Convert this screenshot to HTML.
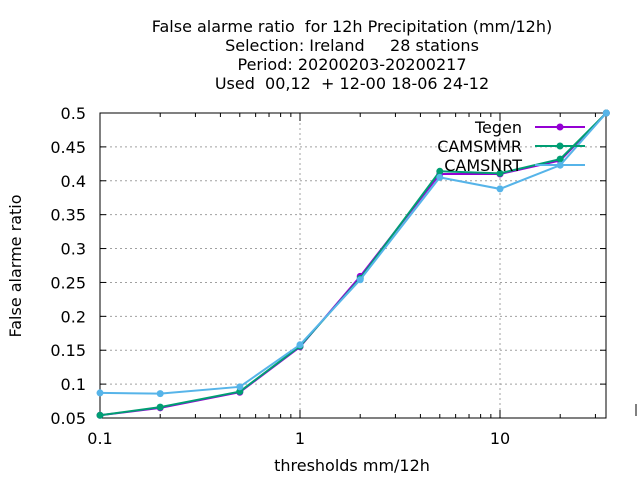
<!DOCTYPE html>
<html><head><meta charset="utf-8"><style>
body{margin:0;background:#fff}
svg text{font-family:"DejaVu Sans",sans-serif;font-size:16px;fill:#000;white-space:pre}
</style></head><body>
<svg id="c" width="640" height="480">
<g>
<text x="352" y="32" text-anchor="middle" xml:space="preserve">False alarme ratio  for 12h Precipitation (mm/12h)</text>
<text x="352" y="51" text-anchor="middle" xml:space="preserve">Selection: Ireland     28 stations</text>
<text x="352" y="70" text-anchor="middle" xml:space="preserve">Period: 20200203-20200217</text>
<text x="352" y="89" text-anchor="middle" xml:space="preserve">Used  00,12  + 12-00 18-06 24-12</text>
</g>
<text transform="translate(21,266) rotate(-90)" text-anchor="middle">False alarme ratio</text>
<text x="352" y="471" text-anchor="middle">thresholds mm/12h</text>
<g id="grid"></g><g id="axes"></g><g id="series"></g><g id="legend"></g>
</svg>
<script>
const thresholds=[0.1,0.2,0.5,1,2,5,10,20,34];
const tegen=[0.054,0.065,0.088,0.155,0.259,0.410,0.410,0.430,0.5];
const camsmmr=[0.054,0.066,0.089,0.156,0.256,0.414,0.411,0.432,0.5];
const camsnrt=[0.087,0.086,0.096,0.158,0.254,0.405,0.388,0.423,0.5];
const yTicks=[0.05,0.1,0.15,0.2,0.25,0.3,0.35,0.4,0.45,0.5];
const xTicks=[0.1,1,10];
const xTickLabels=["0.1","1","10"];
const L=100,R=606,T=113,B=418;
const xs=v=>L+200*(Math.log10(v)+1);
const ys=v=>B-(v-0.05)/0.45*(B-T);
const NS="http://www.w3.org/2000/svg";
function mk(t,a,p){const e=document.createElementNS(NS,t);for(const k in a)e.setAttribute(k,a[k]);p.appendChild(e);return e;}
const g=document.getElementById('grid'),ax=document.getElementById('axes'),sr=document.getElementById('series'),lg=document.getElementById('legend');
yTicks.forEach(v=>{const y=ys(v);
 if(v>0.05&&v<0.5){const l=mk('line',{x1:L,x2:R,y1:y,y2:y,stroke:'#a0a0a0','stroke-dasharray':'2,3'},g);
 
 }
 mk('line',{x1:L,x2:L+6,y1:y,y2:y,stroke:'#000'},ax);mk('line',{x1:R-6,x2:R,y1:y,y2:y,stroke:'#000'},ax);
 const t=mk('text',{x:L-14,y:y+6,'text-anchor':'end'},ax);t.textContent=String(v);
 
 });
xTicks.forEach((v,i)=>{const x=xs(v);
 if(i>0){const l=mk('line',{x1:x,x2:x,y1:T,y2:B,stroke:'#a0a0a0','stroke-dasharray':'2,3'},g);
 
 }
 mk('line',{x1:x,x2:x,y1:B,y2:B-8,stroke:'#000'},ax);mk('line',{x1:x,x2:x,y1:T,y2:T+8,stroke:'#000'},ax);
 const t=mk('text',{x:x,y:B+26,'text-anchor':'middle'},ax);t.textContent=xTickLabels[i];
 
 });
for(let d=0.1;d<=10;d*=10)for(let m=2;m<=9;m++){const v=d*m;if(v>34)continue;const x=xs(v);
 mk('line',{x1:x,x2:x,y1:B,y2:B-4,stroke:'#000'},ax);mk('line',{x1:x,x2:x,y1:T,y2:T+4,stroke:'#000'},ax);}
mk('line',{x1:636,x2:636,y1:404,y2:416,stroke:'#000'},ax);
const fr=mk('rect',{x:L,y:T,width:R-L,height:B-T,fill:'none',stroke:'#000'},ax);


const S=[["Tegen",tegen,"#9400d3"],["CAMSMMR",camsmmr,"#009e73"],["CAMSNRT",camsnrt,"#56b4e9"]];
S.forEach((s,k)=>{const pts=thresholds.map((t,i)=>xs(t)+','+ys(s[1][i])).join(' ');
 const pl=mk('polyline',{points:pts,fill:'none',stroke:s[2],'stroke-width':2},sr);
 
 
 thresholds.forEach((t,i)=>{const c=mk('circle',{cx:xs(t),cy:ys(s[1][i]),r:3.5,fill:s[2]},sr);
  
  });
 const y=127+k*19;
 const lt=mk('text',{x:522,y:y+6,'text-anchor':'end'},lg);lt.textContent=s[0];
 
 
 mk('line',{x1:535,x2:585,y1:y,y2:y,stroke:s[2],'stroke-width':2},lg);
 if(k<2)mk('circle',{cx:560,cy:y,r:3.5,fill:s[2]},lg);});
</script>
</body></html>
